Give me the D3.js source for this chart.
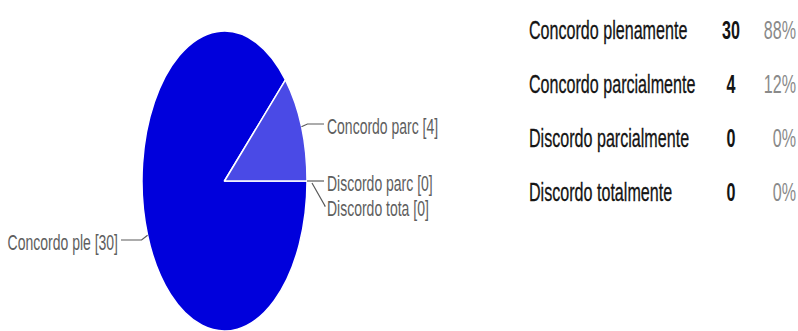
<!DOCTYPE html>
<html>
<head>
<meta charset="utf-8">
<script src="https://cdn.jsdelivr.net/npm/d3@7"></script>
<style>
  html, body { margin: 0; padding: 0; background: #fff; }
  svg { display: block; }
</style>
</head>
<body>
<svg id="chart" width="798" height="331"></svg>
<script>
// Survey answers
const categories = ["Concordo plenamente", "Concordo parcialmente", "Discordo parcialmente", "Discordo totalmente"];
const shortLabels = ["Concordo ple", "Concordo parc", "Discordo parc", "Discordo tota"];
const counts = [30, 4, 0, 0];
const colors = ["#0000dc", "#4a4ae6", "#8080ee", "#b0b0f4"];

const svg = d3.select("#chart");

// Pie geometry (the pie is drawn squeezed horizontally into an ellipse)
const cx = 224.5, cy = 181, rx = 82.5, ry = 150, R = 150;
const sx = rx / R, sy = ry / R;

const total = d3.sum(counts);
const pie = d3.pie().sort(null).value(d => d)
  .startAngle(Math.PI / 2).endAngle(Math.PI / 2 + 2 * Math.PI);
const arcs = pie(counts);
const arc = d3.arc().innerRadius(0).outerRadius(R);

const pieG = svg.append("g").attr("transform", `translate(${cx},${cy}) scale(${sx},${sy})`);
pieG.selectAll("path")
  .data(arcs.filter(a => a.value > 0))
  .join("path")
  .attr("d", arc)
  .attr("fill", (d) => colors[d.index])
  .attr("stroke", "#fff")
  .attr("stroke-width", 1.5)
  .attr("stroke-linejoin", "round")
  .attr("vector-effect", "non-scaling-stroke");

// Point on the ellipse rim at a given pie angle
function rim(angle) {
  return [cx + rx * Math.sin(angle), cy - ry * Math.cos(angle)];
}

// Leader line layout for each slice label: label side, elbow and label line heights
const labelLayout = [
  { side: "left",  elbowDx: -6, lineY: 240, endX: 121 },
  { side: "right", elbowDx: 6,  lineY: 124, endX: 324 },
  { side: "right", elbowDx: 0,  lineY: 181, endX: 324 },
  { side: "right", elbowDx: 13, lineY: 206, endX: 324, startDx: 5, startDy: 2 }
];

const labelG = svg.append("g");
arcs.forEach((a, i) => {
  const L = labelLayout[i];
  const mid = (a.startAngle + a.endAngle) / 2;
  let [ax, ay] = rim(mid);
  if (L.startDx) { ax += L.startDx; ay += L.startDy; }
  const ex = ax + L.elbowDx;
  const pts = [[ax, ay], [ex, L.lineY], [L.endX, L.lineY]];
  labelG.append("path")
    .attr("d", d3.line()(pts))
    .attr("fill", "none")
    .attr("stroke", "#5a5a5a")
    .attr("stroke-width", 1.2);
  const tx = L.side === "left" ? L.endX - 3 : L.endX + 3;
  labelG.append("text")
    .attr("transform", `translate(${tx},${L.lineY + 10}) scale(0.636,1)`)
    .attr("text-anchor", L.side === "left" ? "end" : "start")
    .attr("font-family", "Liberation Sans, Arial, sans-serif")
    .attr("font-size", 22)
    .attr("fill", "#5e5e5e")
    .text(`${shortLabels[i]} [${counts[i]}]`);
});

// Summary table on the right
const tableSqueeze = 0.644;
const rowY = d3.scalePoint().domain(categories).range([39, 201]);
const tableG = svg.append("g")
  .attr("font-family", "Liberation Sans, Arial, sans-serif")
  .attr("font-size", 25);

categories.forEach((c, i) => {
  const y = rowY(c);
  tableG.append("text")
    .attr("transform", `translate(529,${y}) scale(${tableSqueeze},1)`)
    .attr("fill", "#141414")
    .attr("stroke", "#141414")
    .attr("stroke-width", 0.3)
    .text(c);
  tableG.append("text")
    .attr("transform", `translate(731,${y}) scale(${tableSqueeze},1)`)
    .attr("text-anchor", "middle")
    .attr("font-weight", "bold")
    .attr("fill", "#141414")
    .text(counts[i]);
  tableG.append("text")
    .attr("transform", `translate(796,${y}) scale(${tableSqueeze},1)`)
    .attr("text-anchor", "end")
    .attr("fill", "#8a8a8a")
    .text(Math.round(counts[i] / total * 100) + "%");
});
</script>
</body>
</html>
